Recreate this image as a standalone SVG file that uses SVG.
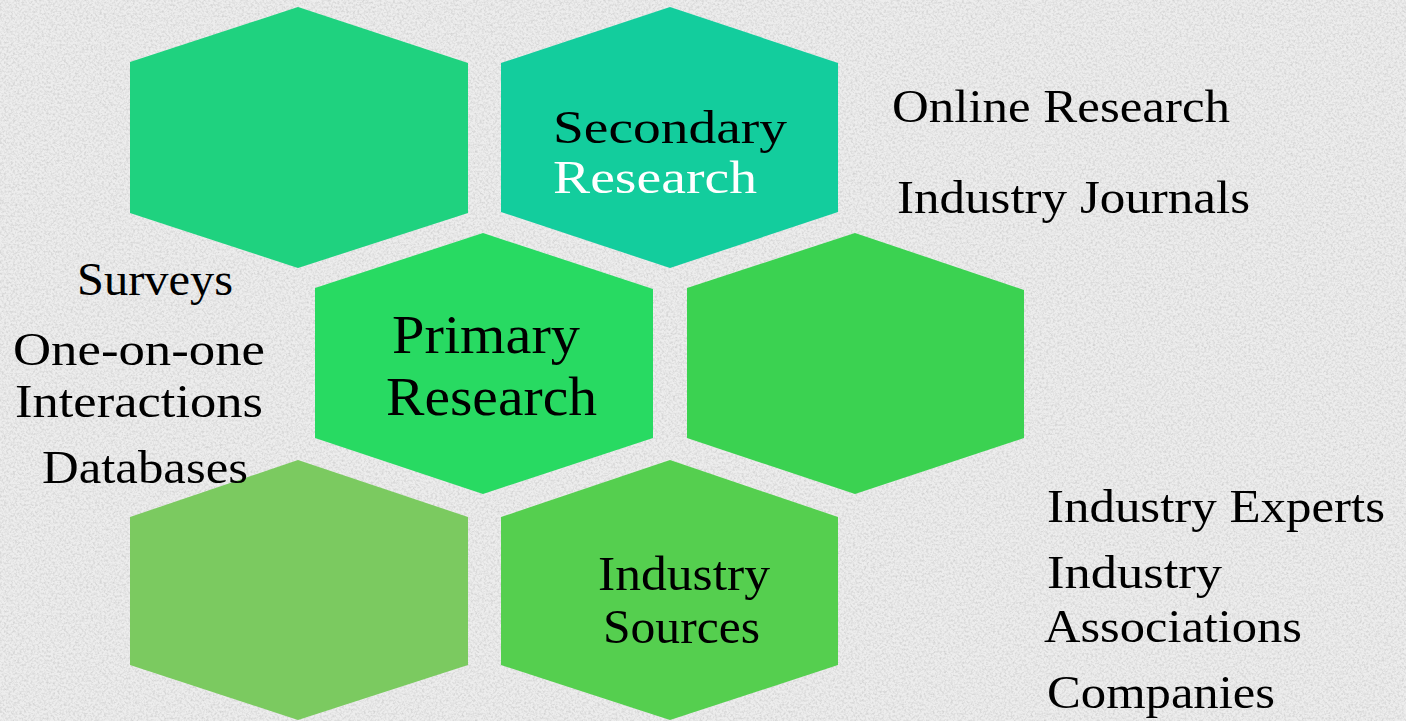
<svg xmlns="http://www.w3.org/2000/svg" width="1406" height="721" viewBox="0 0 1406 721">
<defs>
<filter id="noise" x="0" y="0" width="100%" height="100%">
<feTurbulence type="fractalNoise" baseFrequency="0.45" numOctaves="3" seed="7"/>
<feColorMatrix type="matrix" values="0 0 0 0 0.55  0 0 0 0 0.55  0 0 0 0 0.55  1.4 0 0 0 -0.55"/>
</filter>
<style>
.lbl{font-family:"Liberation Serif","DejaVu Serif",serif;fill:#000;}
.side{font-size:46px;}
.hex{stroke:none;}
</style>
</defs>
<rect width="1406" height="721" fill="#ededed"/>
<rect width="1406" height="721" filter="url(#noise)"/>

<g id="hex-top-left">
<polygon class="hex" fill="#1fd27f" points="298,7 468,63 468,213 298,268 130,213 130,62"/>
</g>
<g id="hex-secondary">
<polygon class="hex" fill="#13cd9d" points="670,7 838,63 838,212 670,268 501,212 501,63"/>
<text class="lbl" x="553" y="143" font-size="46" textLength="234" lengthAdjust="spacingAndGlyphs">Secondary</text>
<text class="lbl" x="553" y="193" font-size="46" fill="#ffffff" style="fill:#ffffff" textLength="204" lengthAdjust="spacingAndGlyphs">Research</text>
</g>
<g id="hex-primary">
<polygon class="hex" fill="#28da62" points="483,233 653,289 653,438 483,494 315,438 315,288"/>
<text class="lbl" x="392" y="353" font-size="55" textLength="188" lengthAdjust="spacingAndGlyphs">Primary</text>
<text class="lbl" x="386" y="415" font-size="55" textLength="211" lengthAdjust="spacingAndGlyphs">Research</text>
</g>
<g id="hex-mid-right">
<polygon class="hex" fill="#3bd251" points="855,233 1024,290 1024,438 855,494 687,438 687,288"/>
</g>
<g id="hex-bottom-left">
<polygon class="hex" fill="#7bca60" points="298,460 468,517 468,665 298,720 130,665 130,517"/>
</g>
<g id="hex-industry-sources">
<polygon class="hex" fill="#55cf4f" points="670,460 838,517 838,665 670,720 501,665 501,517"/>
<text class="lbl" x="598" y="590" font-size="48" textLength="172" lengthAdjust="spacingAndGlyphs">Industry</text>
<text class="lbl" x="603" y="643" font-size="48" textLength="157" lengthAdjust="spacingAndGlyphs">Sources</text>
</g>

<g id="secondary-items">
<text class="lbl side" x="892" y="122" textLength="338" lengthAdjust="spacingAndGlyphs">Online Research</text>
<text class="lbl side" x="897" y="213" textLength="353" lengthAdjust="spacingAndGlyphs">Industry Journals</text>
</g>
<g id="primary-items">
<text class="lbl side" x="77" y="295" textLength="156" lengthAdjust="spacingAndGlyphs">Surveys</text>
<text class="lbl side" x="13" y="365" textLength="252" lengthAdjust="spacingAndGlyphs">One-on-one</text>
<text class="lbl side" x="15" y="417" textLength="248" lengthAdjust="spacingAndGlyphs">Interactions</text>
<text class="lbl side" x="42" y="483" textLength="206" lengthAdjust="spacingAndGlyphs">Databases</text>
</g>
<g id="industry-items">
<text class="lbl side" x="1047" y="522" textLength="338" lengthAdjust="spacingAndGlyphs">Industry Experts</text>
<text class="lbl side" x="1047" y="588" textLength="175" lengthAdjust="spacingAndGlyphs">Industry</text>
<text class="lbl side" x="1044" y="642" textLength="258" lengthAdjust="spacingAndGlyphs">Associations</text>
<text class="lbl side" x="1047" y="708" textLength="228" lengthAdjust="spacingAndGlyphs">Companies</text>
</g>
<g id="connectors"></g>
</svg>
